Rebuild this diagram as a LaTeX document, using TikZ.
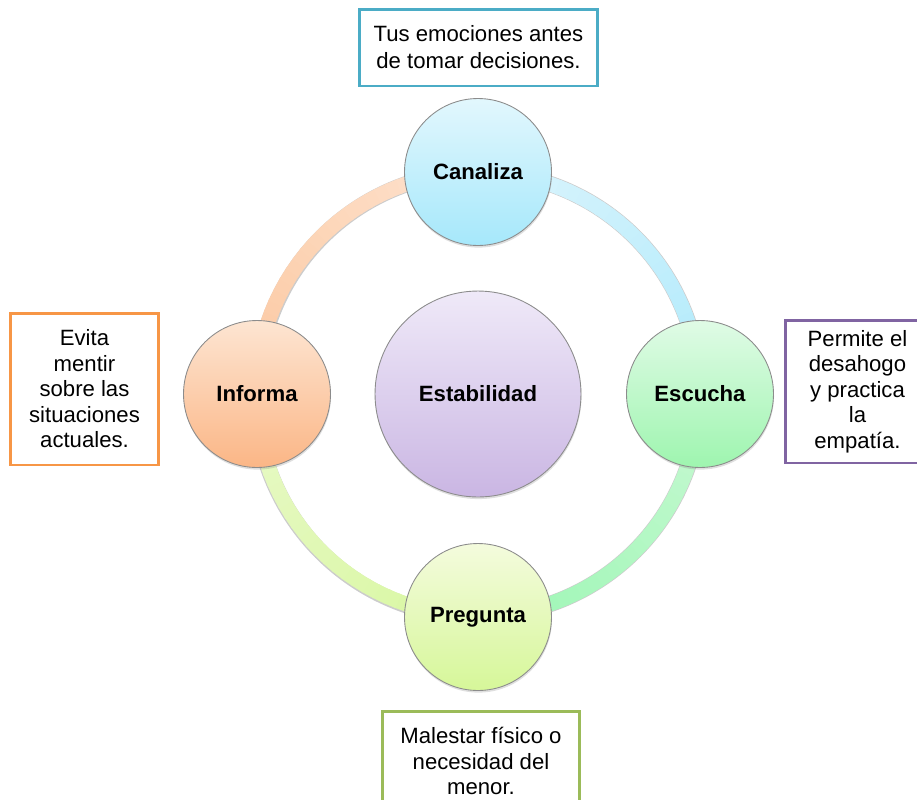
\documentclass[tikz,border=0pt]{standalone}
\usepackage{fontspec}
\setmainfont{Liberation Sans}
\usepackage{tikz}
\usetikzlibrary{shadows,backgrounds,positioning}

\definecolor{canTop}{HTML}{E2F7FD}
\definecolor{canBot}{HTML}{A6E8FB}
\definecolor{escTop}{HTML}{E0FBE6}
\definecolor{escBot}{HTML}{9EF5AF}
\definecolor{preTop}{HTML}{F4FBDD}
\definecolor{preBot}{HTML}{D6F799}
\definecolor{infTop}{HTML}{FDE5D2}
\definecolor{infBot}{HTML}{FBB686}
\definecolor{estTop}{HTML}{EFE9F8}
\definecolor{estBot}{HTML}{CAB6E3}
\definecolor{noteTeal}{HTML}{4BACC6}
\definecolor{noteOrange}{HTML}{F79646}
\definecolor{notePurple}{HTML}{8064A2}
\definecolor{noteGreen}{HTML}{9BBB59}
\definecolor{ringOrA}{HTML}{FCC7A0}
\definecolor{ringOrB}{HTML}{FDE3CF}
\definecolor{ringBlA}{HTML}{DDF5FD}
\definecolor{ringBlB}{HTML}{B0EAFB}
\definecolor{ringGrA}{HTML}{C8F9D2}
\definecolor{ringGrB}{HTML}{9BF6B4}
\definecolor{ringYeA}{HTML}{D8F7A0}
\definecolor{ringYeB}{HTML}{E8F9C8}

% one coloured quarter of the ring, start angle, end angle, start colour, end colour
\newcommand\ringseg[4]{
\foreach \k in {0,...,29}{
\pgfmathsetmacro\sa{#1+(#2-#1)*\k/30}
\pgfmathsetmacro\ea{#1+(#2-#1)*(\k+1.2)/30}
\pgfmathtruncatemacro\mix{100-100*\k/29}
\draw[ringline,color=#3!\mix!#4] (ring) ++(\sa:4.44cm) arc[start angle=\sa,end angle=\ea,radius=4.44cm];
}}

\begin{document}
\begin{tikzpicture}[x=0.02cm,y=-0.02cm,
  every node/.style={font=\fontsize{12.6}{14.5}\selectfont},
  ball/.style={circle,draw=black!45,line width=0.5pt,minimum size=2.94cm,inner sep=0pt,
    font=\fontsize{12.6}{14.5}\selectfont\bfseries,
    drop shadow={shadow xshift=0.3pt,shadow yshift=-1.2pt,opacity=0.25}},
  note/.style={draw,line width=1.7pt,fill=white,align=center,inner sep=0pt},
  ringedge/.style={line width=9.3pt,black!20},
  ringline/.style={line width=8.5pt}]
\useasboundingbox (0,0) rectangle (917,799);
\clip (0,0) rectangle (917,799);
\coordinate (ring) at (478,394);

% circles
\node[ball,top color=canTop,bottom color=canBot] (canaliza) at (478,172) {Canaliza};
\node[ball,top color=escTop,bottom color=escBot] (escucha) at (700,394) {Escucha};
\node[ball,top color=preTop,bottom color=preBot] (pregunta) at (478,617) {Pregunta};
\node[ball,top color=infTop,bottom color=infBot] (informa) at (257,394) {Informa};
\node[ball,minimum size=4.12cm,top color=estTop,bottom color=estBot] (estabilidad) at (478,394) {Estabilidad};

% notes
\node[note,draw=noteTeal,minimum width=4.78cm,minimum height=1.54cm,font=\fontsize{12.6}{15.3}\selectfont] (tus) at (478.5,47.5) {Tus emociones antes\\de tomar decisiones.};
\node[note,draw=noteOrange,minimum width=2.98cm,minimum height=3.04cm] (evita) at (84.5,389) {Evita\\mentir\\sobre las\\situaciones\\actuales.};
\node[note,draw=notePurple,minimum width=2.9cm,minimum height=2.86cm] (permite) at (857.5,391.5) {Permite el\\desahogo\\y practica\\la\\empatía.};
\node[note,draw=noteGreen,minimum width=3.96cm,minimum height=2cm] (malestar) at (481,761) {Malestar físico o\\necesidad del\\menor.};

% ring
\begin{scope}[on background layer]
\draw[ringedge] (informa.center) arc[start angle=180,end angle=90,radius=4.44cm];
\draw[ringedge] (canaliza.center) arc[start angle=90,end angle=0,radius=4.44cm];
\draw[ringedge] (escucha.center) arc[start angle=0,end angle=-90,radius=4.44cm];
\draw[ringedge] (pregunta.center) arc[start angle=-90,end angle=-180,radius=4.44cm];
\ringseg{180}{90}{ringOrA}{ringOrB}
\ringseg{90}{0}{ringBlA}{ringBlB}
\ringseg{0}{-90}{ringGrA}{ringGrB}
\ringseg{-90}{-180}{ringYeA}{ringYeB}
\end{scope}
\end{tikzpicture}
\end{document}
